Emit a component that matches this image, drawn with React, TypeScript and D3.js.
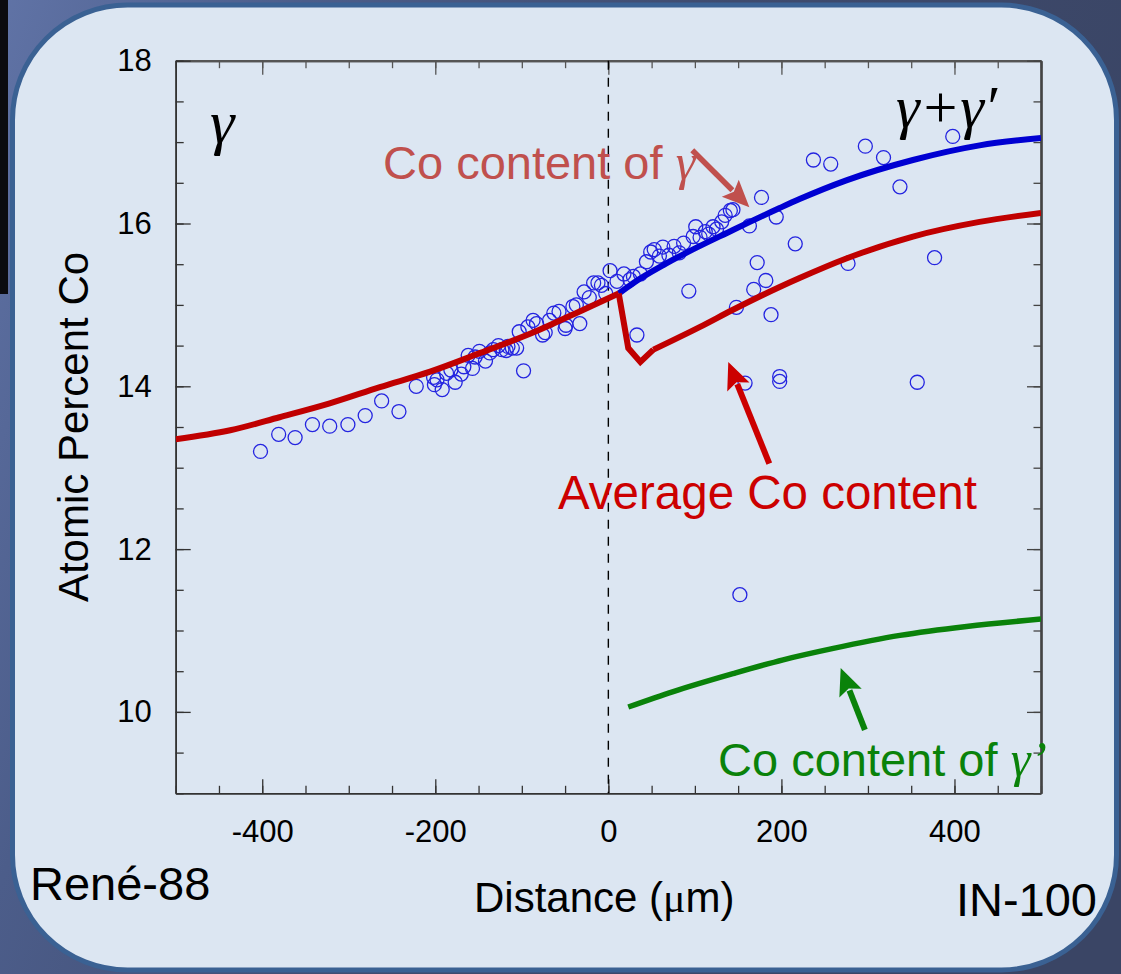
import React, { useEffect, useRef } from "react";
import * as d3 from "d3";

const W = 1121;
const H = 974;

// ---- axes ----
const xDomain = [-500, 500];
const yDomain = [9, 18];
const xTickValues = [-400, -200, 0, 200, 400];
const yTickValues = [10, 12, 14, 16, 18];
const xMinorTicks = d3.range(-500, 501, 50);
const yMinorTicks = d3.range(9, 18.01, 0.5);

// ---- measured Co content (open circles) ----
const measuredX = [
  -402, -381, -362, -342, -322, -301, -281, -262, -242, -222,
  -202, -201, -198, -192, -187, -182, -177, -170, -167, -162,
  -157, -154, -149, -142, -137, -133, -127, -123, -118, -116,
  -111, -106, -98, -103, -93, -87, -83, -76, -73, -68,
  -63, -57, -50, -49, -41, -37, -33, -28, -22, -17,
  -12, -8, -3, 2, 10, 18, 25, 29, 33, 37,
  44, 49, 53, 59, 63, 70, 76, 82, 87, 93,
  98, 101, 106, 112, 116, 121, 125, 131, 135, 141,
  144, 163, 177, 194, 216, 172, 182, 168, 148, 188,
  158, 198, 198, 152, 237, 257, 297, 318, 337, 398,
  277, 377, 357,
];
const measuredY = [
  13.2, 13.41, 13.37, 13.53, 13.51, 13.53, 13.64, 13.82, 13.69, 14.0,
  14.11, 14.02, 14.08, 13.96, 14.16, 14.2, 14.05, 14.15, 14.24, 14.38,
  14.22, 14.36, 14.43, 14.31, 14.41, 14.45, 14.5, 14.45, 14.44, 14.49,
  14.47, 14.47, 14.19, 14.67, 14.73, 14.81, 14.77, 14.63, 14.66, 14.81,
  14.9, 14.92, 14.71, 14.75, 14.98, 15.0, 14.77, 15.16, 15.09, 15.27,
  15.27, 15.24, 15.14, 15.42, 15.29, 15.38, 15.31, 15.35, 14.63, 15.38,
  15.53, 15.65, 15.68, 15.6, 15.71, 15.61, 15.72, 15.64, 15.76, 15.17,
  15.84, 15.96, 15.83, 15.9, 15.87, 15.96, 15.93, 16.02, 16.1, 16.16,
  16.17, 15.97, 16.32, 16.08, 15.75, 15.52, 15.3, 15.19, 14.97, 14.88,
  14.04, 14.12, 14.06, 11.44, 16.78, 16.73, 16.95, 16.81, 16.45, 17.07,
  15.51, 15.58, 14.05,
];

// ---- calculated curves ----
// average Co content: smooth diffusion profile, sharp drop just past the interface
const averageLeftX = [-500, -437, -380, -322, -264, -206, -148, -87, -25, 12];
const averageLeftY = [13.35, 13.46, 13.62, 13.79, 13.99, 14.18, 14.41, 14.66, 14.96, 15.14];
const averageDropX = [12, 23, 37, 52];
const averageDropY = [15.14, 14.47, 14.3, 14.45];
const averageRightX = [52, 106, 144, 198, 221, 275, 352, 429, 500];
const averageRightY = [14.45, 14.73, 14.94, 15.22, 15.33, 15.57, 15.84, 16.02, 16.13];

const gammaX = [12, 29, 67, 144, 198, 221, 275, 352, 429, 500];
const gammaY = [15.14, 15.27, 15.51, 15.92, 16.19, 16.3, 16.53, 16.78, 16.96, 17.05];

const gammaPrimeX = [23, 75, 144, 202, 260, 337, 414, 500];
const gammaPrimeY = [10.06, 10.25, 10.47, 10.64, 10.78, 10.94, 11.05, 11.14];

const SANS = "'Liberation Sans', Arial, Helvetica, sans-serif";
const SERIF = "'Liberation Serif', 'Times New Roman', serif";

export default function App() {
  const ref = useRef<SVGSVGElement>(null);

  useEffect(() => {
    const svg = d3.select(ref.current);
    svg.selectAll("*").remove();

    const x = d3.scaleLinear().domain(xDomain).range([175.7, 1041]);
    const y = d3.scaleLinear().domain(yDomain).range([793.3, 60.7]);

    // ---- slide background ----
    const defs = svg.append("defs");
    const grad = defs
      .append("linearGradient")
      .attr("id", "bgGrad")
      .attr("x1", 0)
      .attr("y1", 0)
      .attr("x2", 1)
      .attr("y2", 0.3);
    grad.append("stop").attr("offset", 0).attr("stop-color", "#6073a6");
    grad.append("stop").attr("offset", 0.25).attr("stop-color", "#4c5d8a");
    grad.append("stop").attr("offset", 0.6).attr("stop-color", "#3f4b6e");
    grad.append("stop").attr("offset", 1).attr("stop-color", "#3a4565");
    svg.append("rect").attr("width", W).attr("height", H).attr("fill", "url(#bgGrad)");
    svg.append("rect").attr("x", 0).attr("y", 0).attr("width", 8).attr("height", 294).attr("fill", "#0b0b0f");
    svg
      .append("rect")
      .attr("x", 12.5)
      .attr("y", 5)
      .attr("width", 1104)
      .attr("height", 965)
      .attr("rx", 115)
      .attr("ry", 115)
      .attr("fill", "#dce6f2")
      .attr("stroke", "#3a6193")
      .attr("stroke-width", 5);

    defs
      .append("clipPath")
      .attr("id", "plotClip")
      .append("rect")
      .attr("x", x(-500))
      .attr("y", y(18))
      .attr("width", x(500) - x(-500))
      .attr("height", y(9) - y(18));

    // ---- axes ----
    const styleAxis = (g: any, color: string, width: number) => {
      g.select(".domain").attr("stroke", color).attr("stroke-width", width);
      g.selectAll(".tick line").attr("stroke", color).attr("stroke-width", 1.3);
      g.selectAll(".tick text")
        .attr("font-family", SANS)
        .attr("font-size", 31)
        .attr("fill", "#000");
    };

    const fmt = (d: any) => String(d);

    // bottom
    const gxMinor = svg.append("g").attr("transform", `translate(0,${y(9)})`);
    gxMinor.call(d3.axisBottom(x).tickValues(xMinorTicks).tickSize(-7.5).tickSizeOuter(0).tickFormat(() => ""));
    styleAxis(gxMinor, "#333", 1.6);
    const gx = svg.append("g").attr("transform", `translate(0,${y(9)})`);
    gx.call(d3.axisBottom(x).tickValues(xTickValues).tickSize(-14).tickSizeOuter(0).tickPadding(27).tickFormat(fmt));
    styleAxis(gx, "#333", 1.6);

    // top
    const gtMinor = svg.append("g").attr("transform", `translate(0,${y(18)})`);
    gtMinor.call(d3.axisTop(x).tickValues(xMinorTicks).tickSize(-7.5).tickSizeOuter(0).tickFormat(() => ""));
    styleAxis(gtMinor, "#555", 2.2);
    const gt = svg.append("g").attr("transform", `translate(0,${y(18)})`);
    gt.call(d3.axisTop(x).tickValues(xTickValues).tickSize(-14).tickSizeOuter(0).tickFormat(() => ""));
    styleAxis(gt, "#555", 2.2);

    // left
    const gyMinor = svg.append("g").attr("transform", `translate(${x(-500)},0)`);
    gyMinor.call(d3.axisLeft(y).tickValues(yMinorTicks).tickSize(-8).tickSizeOuter(0).tickFormat(() => ""));
    styleAxis(gyMinor, "#333", 1.6);
    const gy = svg.append("g").attr("transform", `translate(${x(-500)},0)`);
    gy.call(d3.axisLeft(y).tickValues(yTickValues).tickSize(-15).tickSizeOuter(0).tickPadding(24).tickFormat(fmt));
    styleAxis(gy, "#333", 1.6);

    // right
    const grMinor = svg.append("g").attr("transform", `translate(${x(500)},0)`);
    grMinor.call(d3.axisRight(y).tickValues(yMinorTicks).tickSize(-7.5).tickSizeOuter(0).tickFormat(() => ""));
    styleAxis(grMinor, "#444", 2.2);
    const gr = svg.append("g").attr("transform", `translate(${x(500)},0)`);
    gr.call(d3.axisRight(y).tickValues(yTickValues).tickSize(-14).tickSizeOuter(0).tickFormat(() => ""));
    styleAxis(gr, "#444", 2.2);

    // ---- interface (dashed) ----
    svg
      .append("line")
      .attr("x1", x(0))
      .attr("x2", x(0))
      .attr("y1", y(18))
      .attr("y2", y(9))
      .attr("stroke", "#000")
      .attr("stroke-width", 1.4)
      .attr("stroke-dasharray", "9,8");

    const plot = svg.append("g").attr("clip-path", "url(#plotClip)");

    // ---- measured points ----
    const pts = measuredX.map((v, i) => [v, measuredY[i]] as [number, number]);
    plot
      .append("g")
      .selectAll("circle")
      .data(pts)
      .join("circle")
      .attr("cx", (d) => x(d[0]))
      .attr("cy", (d) => y(d[1]))
      .attr("r", 7)
      .attr("fill", "none")
      .attr("stroke", "#2424e0")
      .attr("stroke-width", 1.3);

    // ---- curves ----
    const smooth = d3
      .line<[number, number]>()
      .x((d) => x(d[0]))
      .y((d) => y(d[1]))
      .curve(d3.curveMonotoneX);
    const straight = d3
      .line<[number, number]>()
      .x((d) => x(d[0]))
      .y((d) => y(d[1]));
    const zip = (a: number[], b: number[]) => a.map((v, i) => [v, b[i]] as [number, number]);

    const drawPath = (d: string | null, color: string, w: number, join = "round") =>
      plot
        .append("path")
        .attr("d", d)
        .attr("fill", "none")
        .attr("stroke", color)
        .attr("stroke-width", w)
        .attr("stroke-linejoin", join)
        .attr("stroke-linecap", "butt");

    drawPath(smooth(zip(gammaX, gammaY)), "#0000d2", 6);
    drawPath(smooth(zip(averageLeftX, averageLeftY)), "#c00000", 6);
    drawPath(straight(zip(averageDropX, averageDropY)), "#c00000", 6, "miter");
    drawPath(smooth(zip(averageRightX, averageRightY)), "#c00000", 6);
    drawPath(smooth(zip(gammaPrimeX, gammaPrimeY)), "#0a820a", 5.5);

    // ---- arrows ----
    const arrow = (x1: number, y1: number, x2: number, y2: number, color: string, w: number) => {
      const px1 = x(x1), py1 = y(y1), px2 = x(x2), py2 = y(y2);
      const ang = Math.atan2(py2 - py1, px2 - px1);
      const hl = 27, hw = 12;
      const bx = px2 - hl * Math.cos(ang), by = py2 - hl * Math.sin(ang);
      svg
        .append("line")
        .attr("x1", px1)
        .attr("y1", py1)
        .attr("x2", bx + 3 * Math.cos(ang))
        .attr("y2", by + 3 * Math.sin(ang))
        .attr("stroke", color)
        .attr("stroke-width", w);
      const nx = -Math.sin(ang), ny = Math.cos(ang);
      svg
        .append("polygon")
        .attr(
          "points",
          `${px2},${py2} ${bx + hw * nx},${by + hw * ny} ${bx + 5 * Math.cos(ang)},${by + 5 * Math.sin(ang)} ${bx - hw * nx},${by - hw * ny}`
        )
        .attr("fill", color);
    };
    arrow(97, 16.9, 163, 16.2, "#c0504d", 5.5);
    arrow(186, 13.05, 138.6, 14.3, "#cc0000", 6);
    arrow(296.5, 9.78, 268.5, 10.54, "#0a820a", 6);

    // ---- annotations ----
    const coral = svg
      .append("text")
      .attr("x", 383)
      .attr("y", 179)
      .attr("font-family", SANS)
      .attr("font-size", 47)
      .attr("fill", "#c0504d");
    coral.append("tspan").text("Co content of ");
    coral.append("tspan").attr("font-family", SERIF).attr("font-style", "italic").attr("font-size", 50).text("γ");

    svg
      .append("text")
      .attr("x", 558)
      .attr("y", 509)
      .attr("font-family", SANS)
      .attr("font-size", 47.5)
      .attr("fill", "#cc0000")
      .text("Average Co content");

    const green = svg
      .append("text")
      .attr("x", 718)
      .attr("y", 776)
      .attr("font-family", SANS)
      .attr("font-size", 47)
      .attr("fill", "#0a820a");
    green.append("tspan").text("Co content of ");
    green.append("tspan").attr("font-family", SERIF).attr("font-style", "italic").attr("font-size", 50).text("γ’");

    svg
      .append("text")
      .attr("x", 210)
      .attr("y", 143)
      .attr("font-family", SERIF)
      .attr("font-style", "italic")
      .attr("font-size", 62)
      .attr("fill", "#000")
      .text("γ");

    svg
      .append("text")
      .attr("x", 896)
      .attr("y", 127)
      .attr("font-family", SERIF)
      .attr("font-style", "italic")
      .attr("font-size", 60)
      .attr("fill", "#000")
      .text("γ+γ′");

    // ---- axis titles & alloy labels ----
    svg
      .append("text")
      .attr("transform", `translate(88,${y(13.5)}) rotate(-90)`)
      .attr("text-anchor", "middle")
      .attr("font-family", SANS)
      .attr("font-size", 42)
      .attr("fill", "#000")
      .text("Atomic Percent Co");

    const xt = svg
      .append("text")
      .attr("x", 474)
      .attr("y", 912)
      .attr("font-family", SANS)
      .attr("font-size", 42)
      .attr("fill", "#000");
    xt.append("tspan").text("Distance (");
    xt.append("tspan").attr("font-family", SERIF).text("μ");
    xt.append("tspan").text("m)");

    svg
      .append("text")
      .attr("x", 30)
      .attr("y", 900)
      .attr("font-family", SANS)
      .attr("font-size", 47)
      .attr("fill", "#000")
      .text("René-88");

    svg
      .append("text")
      .attr("x", 1097)
      .attr("y", 916)
      .attr("text-anchor", "end")
      .attr("font-family", SANS)
      .attr("font-size", 47)
      .attr("fill", "#000")
      .text("IN-100");
  }, []);

  return (
    <div style={{ position: "absolute", left: 0, top: 0, width: W, height: H }}>
      <svg ref={ref} width={W} height={H} style={{ display: "block" }} />
    </div>
  );
}
